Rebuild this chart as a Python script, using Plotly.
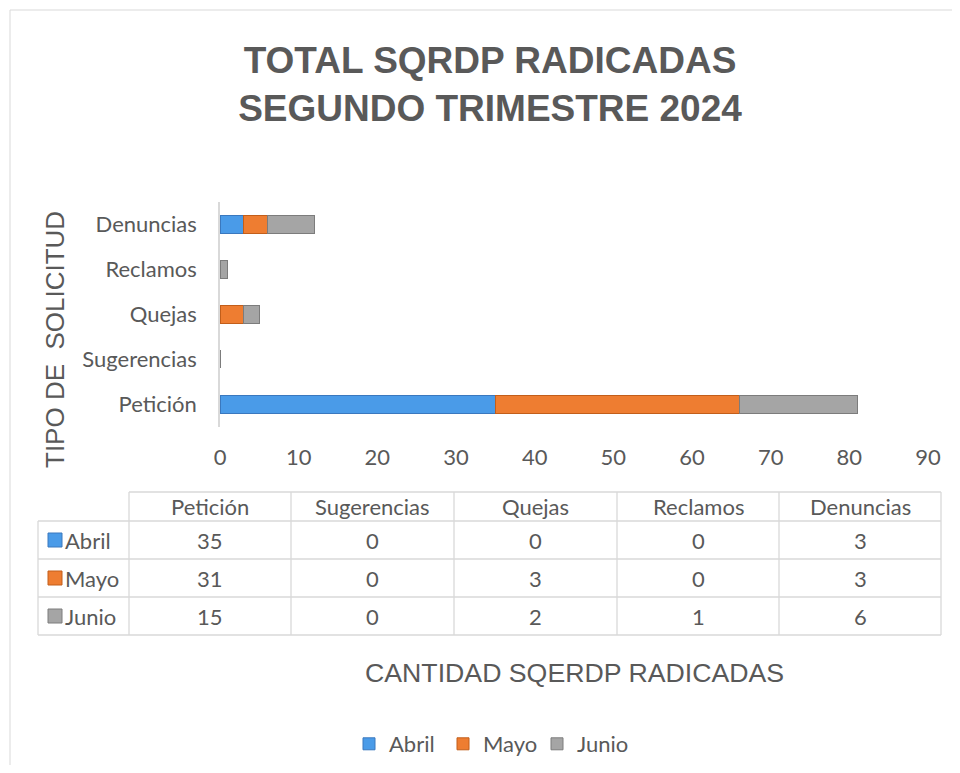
import plotly.graph_objects as go

# ---------------- data ----------------
categories = ["Petición", "Sugerencias", "Quejas", "Reclamos", "Denuncias"]
months = ["Abril", "Mayo", "Junio"]
abril = [35, 0, 0, 0, 3]
mayo = [31, 0, 3, 0, 3]
junio = [15, 0, 2, 1, 6]
x_ticks = [0, 10, 20, 30, 40, 50, 60, 70, 80, 90]
title_text = "TOTAL SQRDP RADICADAS<br>SEGUNDO TRIMESTRE 2024"
y_title = "TIPO DE  SOLICITUD"
x_title = "CANTIDAD SQERDP RADICADAS"

series = [abril, mayo, junio]
fill_colors = ["#4A9BE8", "#EE7D31", "#A5A5A5"]
line_colors = ["#3A78BE", "#C25E1A", "#7C7C7C"]

# page body has an 8px margin -> figure is 944x757 so the page is exactly 960x773
OFF = 8
FW, FH = 944, 757
TXT = "#595959"
GRID = "#D9D9D9"
BODY_FONT = "Lato"
HEAD_FONT = "Liberation Sans"


def px(x):
    """reference-screen x (pixels) -> paper coordinate"""
    return (x - OFF) / FW


def py(y):
    """reference-screen y (pixels) -> paper coordinate"""
    return 1 - (y - OFF) / FH


fig = go.Figure()
for name, vals, fc, lc in zip(months, series, fill_colors, line_colors):
    fig.add_trace(go.Bar(
        y=categories, x=vals, orientation="h", name=name,
        marker=dict(color=fc, line=dict(color=lc, width=1)),
    ))

shapes = []
annotations = []

# chart-area border: only the left and top edges are inside the picture
bline = dict(color=GRID, width=1)
shapes.append(dict(type="line", xref="paper", yref="paper",
                   x0=px(10), x1=px(962), y0=py(10), y1=py(10), line=bline))
shapes.append(dict(type="line", xref="paper", yref="paper",
                   x0=px(10), x1=px(10), y0=py(775), y1=py(10), line=bline))

# ---------------- data table ----------------
col_edges = [129, 291, 454, 617, 779, 941]
row_edges = [492, 521, 559, 597, 635]
label_left = 38

tline = dict(color=GRID, width=1.3)
shapes.append(dict(type="line", xref="paper", yref="paper",
                   x0=px(col_edges[0]), x1=px(col_edges[-1]),
                   y0=py(row_edges[0]), y1=py(row_edges[0]), line=tline))
for yy in row_edges[1:]:
    shapes.append(dict(type="line", xref="paper", yref="paper",
                       x0=px(label_left), x1=px(col_edges[-1]),
                       y0=py(yy), y1=py(yy), line=tline))
shapes.append(dict(type="line", xref="paper", yref="paper",
                   x0=px(label_left), x1=px(label_left),
                   y0=py(row_edges[1]), y1=py(row_edges[-1]), line=tline))
for xx in col_edges:
    shapes.append(dict(type="line", xref="paper", yref="paper",
                       x0=px(xx), x1=px(xx),
                       y0=py(row_edges[0]), y1=py(row_edges[-1]), line=tline))

tfont = dict(family=BODY_FONT, size=22, color=TXT)
for i, cat in enumerate(categories):
    cx = (col_edges[i] + col_edges[i + 1]) / 2
    cy = (row_edges[0] + row_edges[1]) / 2
    annotations.append(dict(x=px(cx), y=py(cy), xref="paper", yref="paper",
                            text=cat, showarrow=False, font=tfont,
                            xanchor="center", yanchor="middle"))
for r, (name, vals, fc, lc) in enumerate(zip(months, series, fill_colors, line_colors)):
    cy = (row_edges[r + 1] + row_edges[r + 2]) / 2
    shapes.append(dict(type="rect", xref="paper", yref="paper",
                       x0=px(48), x1=px(62), y0=py(cy + 7), y1=py(cy - 7),
                       fillcolor=fc, line=dict(color=lc, width=1)))
    annotations.append(dict(x=px(63), y=py(cy), xref="paper", yref="paper",
                            text=name, showarrow=False, font=tfont,
                            xanchor="left", yanchor="middle"))
    for i, v in enumerate(vals):
        cx = (col_edges[i] + col_edges[i + 1]) / 2
        annotations.append(dict(x=px(cx), y=py(cy), xref="paper", yref="paper",
                                text=str(v), showarrow=False, font=tfont,
                                xanchor="center", yanchor="middle"))

# axis titles
annotations.append(dict(x=px(55), y=py(340), xref="paper", yref="paper",
                        text=y_title, textangle=-90, showarrow=False,
                        font=dict(family=HEAD_FONT, size=26, color=TXT),
                        xanchor="center", yanchor="middle"))
annotations.append(dict(x=px(574), y=py(673), xref="paper", yref="paper",
                        text=x_title, showarrow=False,
                        font=dict(family=HEAD_FONT, size=26.7, color=TXT),
                        xanchor="center", yanchor="middle"))

fig.update_layout(
    width=FW, height=FH, autosize=False,
    margin=dict(l=0, r=0, t=0, b=0, autoexpand=False),
    paper_bgcolor="white", plot_bgcolor="white",
    barmode="stack", bargap=0.6,
    title=dict(text=title_text, x=px(490), xanchor="center",
               y=py(73), yanchor="top",
               font=dict(family=HEAD_FONT, size=37, color=TXT, weight="bold")),
    xaxis=dict(domain=[px(220), px(928)], range=[0, 90], tickvals=x_ticks,
               showgrid=False, zeroline=False, showline=False, automargin=False,
               tickfont=dict(family=BODY_FONT, size=22, color=TXT),
               ticklabelstandoff=15, fixedrange=True),
    yaxis=dict(domain=[py(426.5), py(201.5)], range=[-0.5, 4.5],
               showgrid=False, zeroline=False, showline=True, automargin=False,
               linecolor=GRID, linewidth=1.5,
               tickfont=dict(family=BODY_FONT, size=22, color=TXT),
               ticklabelstandoff=17, fixedrange=True),
    legend=dict(orientation="h", x=px(490), xanchor="center",
                y=py(744), yanchor="middle",
                font=dict(family=BODY_FONT, size=22, color=TXT),
                itemwidth=30, entrywidth=49, traceorder="normal"),
    shapes=shapes, annotations=annotations,
)

fig.write_html("out.html")
